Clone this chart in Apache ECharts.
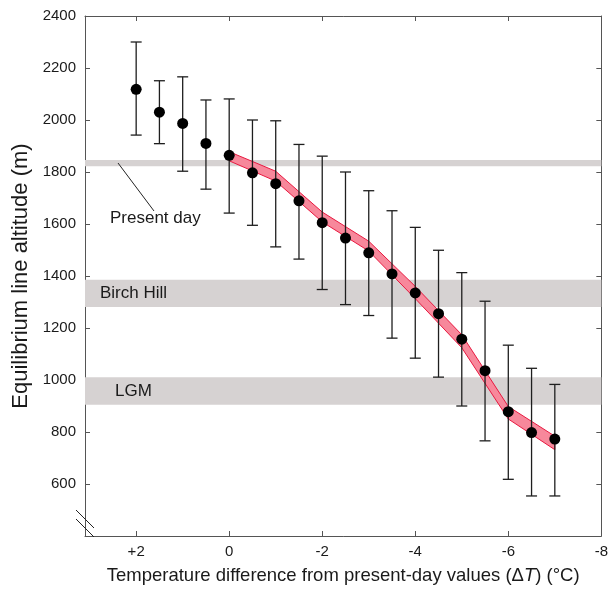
<!DOCTYPE html>
<html>
<head>
<meta charset="UTF-8">
<title>Equilibrium line altitude</title>
<script src="https://cdn.jsdelivr.net/npm/echarts@6/dist/echarts.min.js"></script>
<style>
  html, body { margin: 0; padding: 0; background: #fff; }
</style>
</head>
<body>
<div id="main" style="width: 611px; height: 590px;"></div>
<script type="text/javascript">
// temperature change (deg C) for each model run
var tempDiff = [2, 1.5, 1, 0.5, 0, -0.5, -1, -1.5, -2, -2.5, -3, -3.5, -4, -4.5, -5, -5.5, -6, -6.5, -7];
// ELA mean and error range (m)
var elaMean = [2118, 2030, 1987, 1910, 1864, 1797, 1755, 1689, 1605, 1546, 1489, 1408, 1335, 1255, 1157, 1036, 878, 798, 773];
var elaHigh = [2300, 2151, 2166, 2077, 2081, 2000, 1997, 1906, 1861, 1800, 1728, 1651, 1587, 1499, 1413, 1303, 1134, 1045, 983];
var elaLow = [1942, 1909, 1803, 1734, 1642, 1595, 1512, 1465, 1348, 1290, 1248, 1161, 1084, 1011, 900, 766, 618, 554, 554];

// red band
var bandT = [0, -1, -2, -3, -4, -5, -6, -7];
var bandUpper = [1878, 1803, 1646, 1534, 1360, 1174, 898, 784];
var bandLower = [1843, 1765, 1608, 1496, 1313, 1124, 850, 732];

// observed ELA zones (m)
var presentDay = [1822, 1846];
var birchHill = [1281, 1386];
var lgm = [905, 1011];

var xTicks = [2, 0, -2, -4, -6, -8];
var yTicks = [600, 800, 1000, 1200, 1400, 1600, 1800, 2000, 2200, 2400];

var font = 'Liberation Sans, Arial, Helvetica, sans-serif';
var axisColor = '#555';
var textColor = '#1a1a1a';

var myChart = echarts.init(document.getElementById('main'));

function frameAxis(extra) {
    var base = {
        axisLine: { show: true, onZero: false, lineStyle: { color: axisColor, width: 1 } },
        splitLine: { show: false }
    };
    return Object.assign(base, extra);
}

function ticks(values) {
    return { show: true, inside: true, length: 5, customValues: values, lineStyle: { color: axisColor, width: 1 } };
}

var option = {
    animation: false,
    grid: { left: 85, right: 3, top: 16, bottom: 52 },
    xAxis: [
        frameAxis({
            type: 'value', inverse: true, min: -8, max: 3.1, position: 'bottom',
            name: 'Temperature difference from present-day values (Δ{i|T}) (°C)',
            nameLocation: 'middle', nameGap: 30,
            nameTextStyle: {
                fontFamily: font, fontSize: 18.5, color: textColor,
                rich: { i: { fontFamily: font, fontSize: 18.5, fontStyle: 'italic', color: textColor } }
            },
            axisTick: ticks(xTicks),
            axisLabel: {
                customValues: xTicks, margin: 8,
                fontFamily: font, fontSize: 15, color: textColor,
                formatter: function (v) { return v > 0 ? '+' + v : String(v); }
            }
        }),
        frameAxis({
            type: 'value', inverse: true, min: -8, max: 3.1, position: 'top',
            axisTick: ticks(xTicks),
            axisLabel: { show: false }
        })
    ],
    yAxis: [
        frameAxis({
            type: 'value', min: 400, max: 2400, position: 'left',
            name: 'Equilibrium line altitude (m)',
            nameLocation: 'middle', nameGap: 47,
            nameTextStyle: { fontFamily: font, fontSize: 22, color: textColor },
            axisTick: ticks(yTicks),
            axisLabel: {
                customValues: yTicks, margin: 9,
                fontFamily: font, fontSize: 15, color: textColor,
                formatter: function (v) { return String(v); }
            }
        }),
        frameAxis({
            type: 'value', min: 400, max: 2400, position: 'right',
            axisTick: ticks(yTicks),
            axisLabel: { show: false }
        })
    ],
    series: [
        {
            // carries the grey zones only
            type: 'line',
            data: tempDiff.map(function (t, i) { return [t, elaMean[i]]; }),
            symbol: 'none',
            lineStyle: { opacity: 0 },
            silent: true,
            z: 1,
            markArea: {
                silent: true,
                itemStyle: { color: '#d6d2d2' },
                label: { fontFamily: font, fontSize: 17, color: textColor },
                data: [
                    [{ yAxis: presentDay[0], label: { show: false } }, { yAxis: presentDay[1] }],
                    [{ yAxis: birchHill[0], name: 'Birch Hill', label: { show: true, position: 'insideLeft', offset: [10, 0] } }, { yAxis: birchHill[1] }],
                    [{ yAxis: lgm[0], name: 'LGM', label: { show: true, position: 'insideLeft', offset: [25, 0] } }, { yAxis: lgm[1] }]
                ]
            }
        },
        {
            type: 'custom',
            z: 3,
            data: bandT.map(function (t, i) { return [t, bandLower[i], bandUpper[i]]; }),
            renderItem: function (params, api) {
                if (params.dataIndex !== 0) return null;
                var pts = [];
                for (var i = 0; i < bandT.length; i++) pts.push(api.coord([bandT[i], bandUpper[i]]));
                for (var j = bandT.length - 1; j >= 0; j--) pts.push(api.coord([bandT[j], bandLower[j]]));
                return {
                    type: 'polygon',
                    shape: { points: pts },
                    style: { fill: '#f7889b', stroke: '#e8183f', lineWidth: 1 }
                };
            }
        },
        {
            type: 'custom',
            z: 4,
            data: tempDiff.map(function (t, i) { return [t, elaLow[i], elaHigh[i]]; }),
            renderItem: function (params, api) {
                var x = api.value(0);
                var lo = api.coord([x, api.value(1)]);
                var hi = api.coord([x, api.value(2)]);
                var w = 5.5;
                var st = { stroke: '#1e1e1e', lineWidth: 1.3 };
                return {
                    type: 'group',
                    children: [
                        { type: 'line', shape: { x1: hi[0], y1: hi[1], x2: lo[0], y2: lo[1] }, style: st },
                        { type: 'line', shape: { x1: hi[0] - w, y1: hi[1], x2: hi[0] + w, y2: hi[1] }, style: st },
                        { type: 'line', shape: { x1: lo[0] - w, y1: lo[1], x2: lo[0] + w, y2: lo[1] }, style: st }
                    ]
                };
            }
        },
        {
            type: 'scatter',
            z: 5,
            symbol: 'circle',
            symbolSize: 11,
            itemStyle: { color: '#000', opacity: 1 },
            data: tempDiff.map(function (t, i) { return [t, elaMean[i]]; })
        }
    ],
    graphic: [
        { type: 'line', shape: { x1: 118, y1: 163, x2: 154, y2: 211 }, style: { stroke: '#222', lineWidth: 1 }, z: 10 },
        { type: 'text', left: 110, top: 210, style: { text: 'Present day', fontFamily: font, fontSize: 17, fill: textColor }, z: 10 },
        // axis break marks
        { type: 'line', shape: { x1: 76, y1: 510, x2: 94, y2: 528 }, style: { stroke: '#222', lineWidth: 1 }, z: 10 },
        { type: 'line', shape: { x1: 76, y1: 519, x2: 94, y2: 537 }, style: { stroke: '#222', lineWidth: 1 }, z: 10 }
    ]
};

myChart.setOption(option);
</script>
</body>
</html>
